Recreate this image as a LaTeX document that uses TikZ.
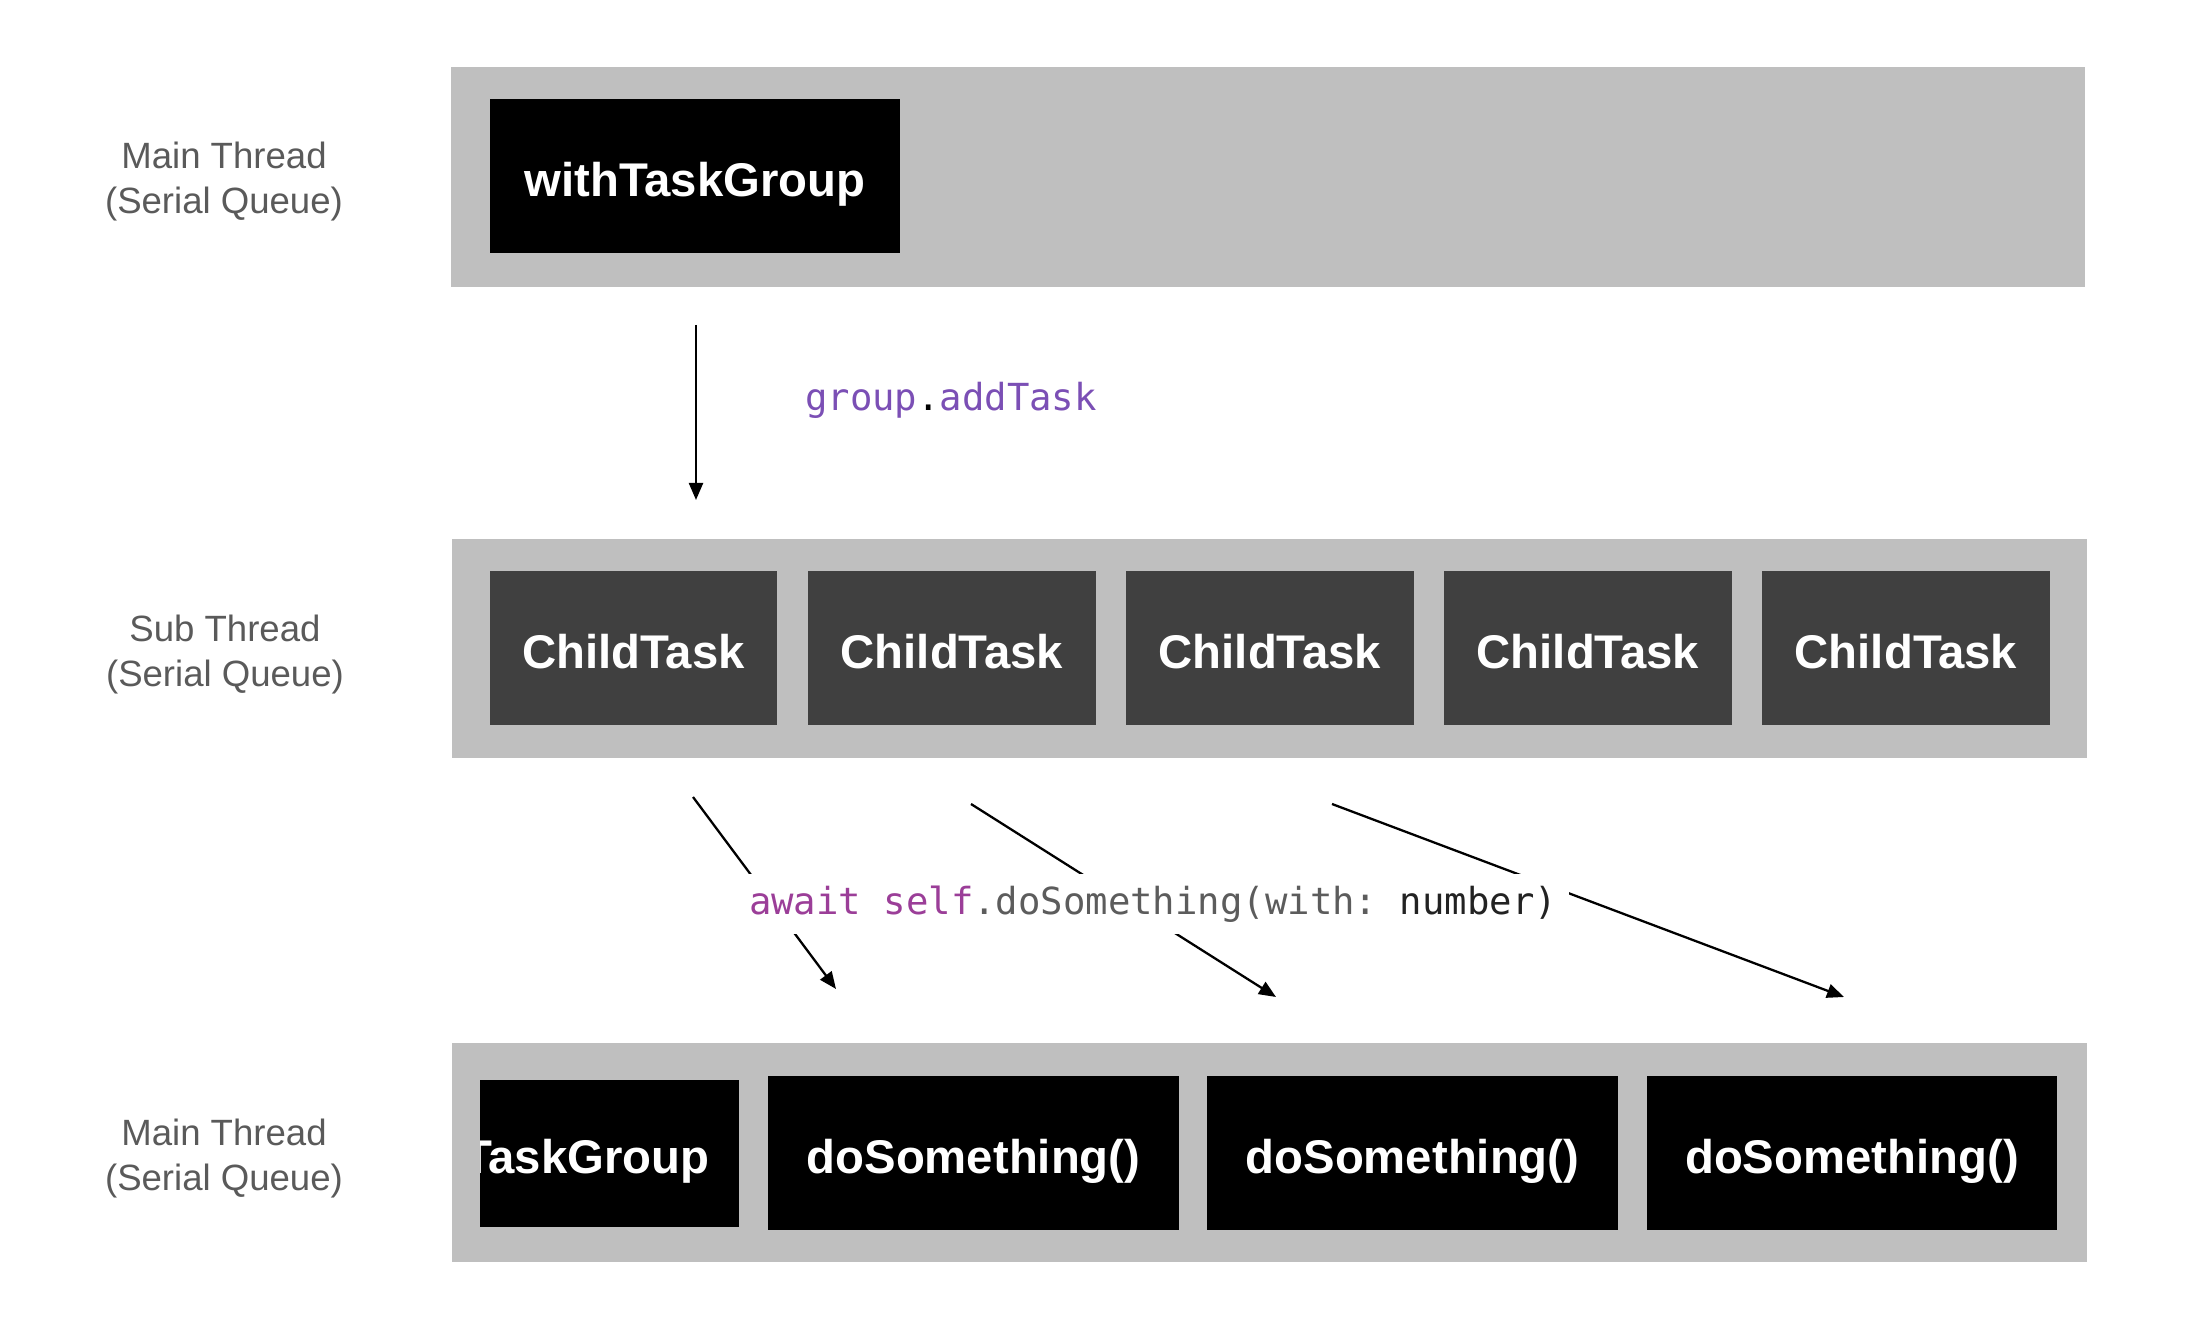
\documentclass[tikz,border=0pt]{standalone}
\usepackage{fontspec}
\setmainfont{Liberation Sans}
\setmonofont{DejaVu Sans Mono}
\usetikzlibrary{positioning,arrows.meta}

\definecolor{bandgray}{HTML}{BFBFBF}
\definecolor{taskgray}{HTML}{404040}
\definecolor{labelgray}{HTML}{5A5A5A}
\definecolor{codepurple}{HTML}{7B4FB5}
\definecolor{keyword}{HTML}{9B3E98}
\definecolor{codegray}{HTML}{5C5C5C}
\definecolor{codedark}{HTML}{222222}

\tikzset{
  threadlabel/.style={align=center, text=labelgray, font=\fontsize{10.4}{12.8}\selectfont},
  boxtext/.style={text=white, inner sep=0pt, text height=0.40cm, text depth=0pt,
    font=\fontsize{13.45}{16}\selectfont\bfseries},
  blackbox/.style={boxtext, fill=black, minimum width=4.10cm, minimum height=1.54cm},
  childbox/.style={boxtext, fill=taskgray, minimum width=2.87cm, minimum height=1.54cm},
  callarrow/.style={-{Triangle[length=0.17cm,width=0.14cm]}, line width=0.65pt},
  codelabel/.style={font=\ttfamily\fontsize{10.6}{12}\selectfont}
}

\begin{document}
\begin{tikzpicture}[x=0.01cm,y=-0.01cm]
  \useasboundingbox (0,0) rectangle (2196,1322);

  % main thread, top
  \fill[bandgray] (451,67) rectangle (2085,287);
  \node[threadlabel] (mainlbl) at (224,182) {Main Thread\\(Serial Queue)};
  \node[blackbox] (wtg) at (695,176) {withTaskGroup};

  \coordinate (add0) at (696,325);
  \coordinate (add1) at (696,500);
  \draw[callarrow] (add0) -- (add1);
  \node[codelabel] (addtask) at (951,400)
    {\textcolor{codepurple}{group}\textcolor{black}{.}\textcolor{codepurple}{addTask}};

  % sub thread
  \fill[bandgray] (452,539) rectangle (2087,758);
  \node[threadlabel] (sublbl) at (225,655) {Sub Thread\\(Serial Queue)};
  \foreach \cx [count=\i] in {633.5,952,1270,1588,1906}
    \node[childbox] (child\i) at (\cx,648) {ChildTask};

  % calls back to main
  \coordinate (s1) at (693,797);
  \coordinate (e1) at (836,989);
  \coordinate (s2) at (971,804);
  \coordinate (e2) at (1276,997);
  \coordinate (s3) at (1332,804);
  \coordinate (e3) at (1844,997);
  \draw[callarrow] (s1) -- (e1);
  \draw[callarrow] (s2) -- (e2);
  \draw[callarrow] (s3) -- (e3);
  \node[codelabel, fill=white] (await) at (1153,904)
    {\textcolor{keyword}{await self}\textcolor{codegray}{.doSomething(with:} \textcolor{codedark}{number)}};

  % main thread, bottom
  \fill[bandgray] (452,1043) rectangle (2087,1262);
  \node[threadlabel] (mainlbl2) at (224,1159) {Main Thread\\(Serial Queue)};
  \fill[black] (480,1080) rectangle (739,1227);
  \begin{scope}
    \clip (480,1080) rectangle (739,1227);
    \node[boxtext, anchor=east] (wtg2) at (710,1153.5) {withTaskGroup};
  \end{scope}
  \foreach \cx [count=\i] in {973.5,1412.5,1852}
    \node[blackbox] (do\i) at (\cx,1153) {doSomething()};
\end{tikzpicture}
\end{document}
